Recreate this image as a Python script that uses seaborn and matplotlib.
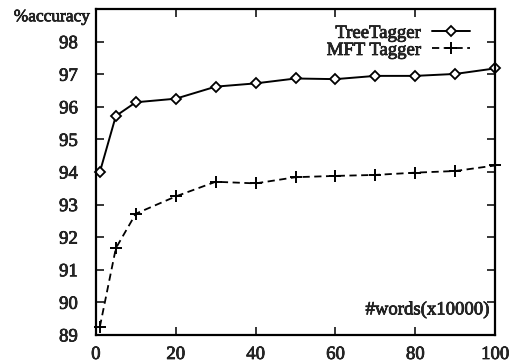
import matplotlib
matplotlib.use("Agg")
import matplotlib.pyplot as plt
import matplotlib.patheffects as pe
import seaborn as sns
import pandas as pd

words = [1, 5, 10, 20, 30, 40, 50, 60, 70, 80, 90, 100]
tree_tagger = [94.0, 95.72, 96.14, 96.25, 96.62, 96.72, 96.87, 96.85, 96.95, 96.95, 97.01, 97.18]
mft_tagger = [89.25, 91.66, 92.72, 93.25, 93.7, 93.65, 93.84, 93.88, 93.91, 93.98, 94.03, 94.2]
xticks = [0, 20, 40, 60, 80, 100]
yticks = [89, 90, 91, 92, 93, 94, 95, 96, 97, 98]

sns.set_style("ticks")
plt.rcParams['font.family'] = ['Liberation Serif', 'DejaVu Serif']

thick = [pe.withStroke(linewidth=0.5, foreground="black")]

fig = plt.figure(figsize=(5.1, 3.64), dpi=100)
ax = fig.add_axes([0.188, 0.080, 0.783, 0.895])

df_tree = pd.DataFrame({"x": words, "y": tree_tagger})
df_mft = pd.DataFrame({"x": words, "y": mft_tagger})

sns.lineplot(data=df_tree, x="x", y="y", ax=ax, color="black", linewidth=1.4,
             marker="D", markersize=5, markerfacecolor="white", markeredgecolor="black",
             markeredgewidth=1.3, label="TreeTagger", clip_on=False)
sns.lineplot(data=df_mft, x="x", y="y", ax=ax, color="black", linewidth=1.3,
             marker="+", markersize=9, markeredgewidth=1.4, markeredgecolor="black",
             linestyle=(0, (4, 2.5)), label="MFT Tagger", clip_on=False)

ax.set_xlim(0, 100)
ax.set_ylim(89, 99)
ax.set_xticks(xticks)
ax.set_yticks(yticks)
ax.set_xticklabels([str(t) for t in xticks], fontsize=13.5)
ax.set_yticklabels([str(t) for t in yticks], fontsize=13.5)
ax.tick_params(direction="in", length=6, width=1.3, top=True, right=True)
ax.tick_params(axis="y", pad=13)
ax.tick_params(axis="x", pad=8)
for lbl in ax.get_xticklabels() + ax.get_yticklabels():
    lbl.set_path_effects(thick)
for s in ax.spines.values():
    s.set_linewidth(1.6)
    s.set_color("black")
ax.set_xlabel("")
ax.set_ylabel("")
ax.text(-0.015, 0.975, "%accuracy", transform=ax.transAxes, ha="right", va="center",
        fontsize=12.5, path_effects=thick)
ax.text(0.985, 0.077, "#words(x10000)", transform=ax.transAxes, ha="right", va="center",
        fontsize=13.5, path_effects=thick)

leg = ax.legend(loc="upper right", bbox_to_anchor=(0.955, 0.975), markerfirst=False, frameon=False,
                fontsize=13.5, handlelength=2.0, handletextpad=0.6, labelspacing=0.0, borderaxespad=0)
for t in leg.get_texts():
    t.set_path_effects(thick)

fig.savefig("out.png", dpi=100)
